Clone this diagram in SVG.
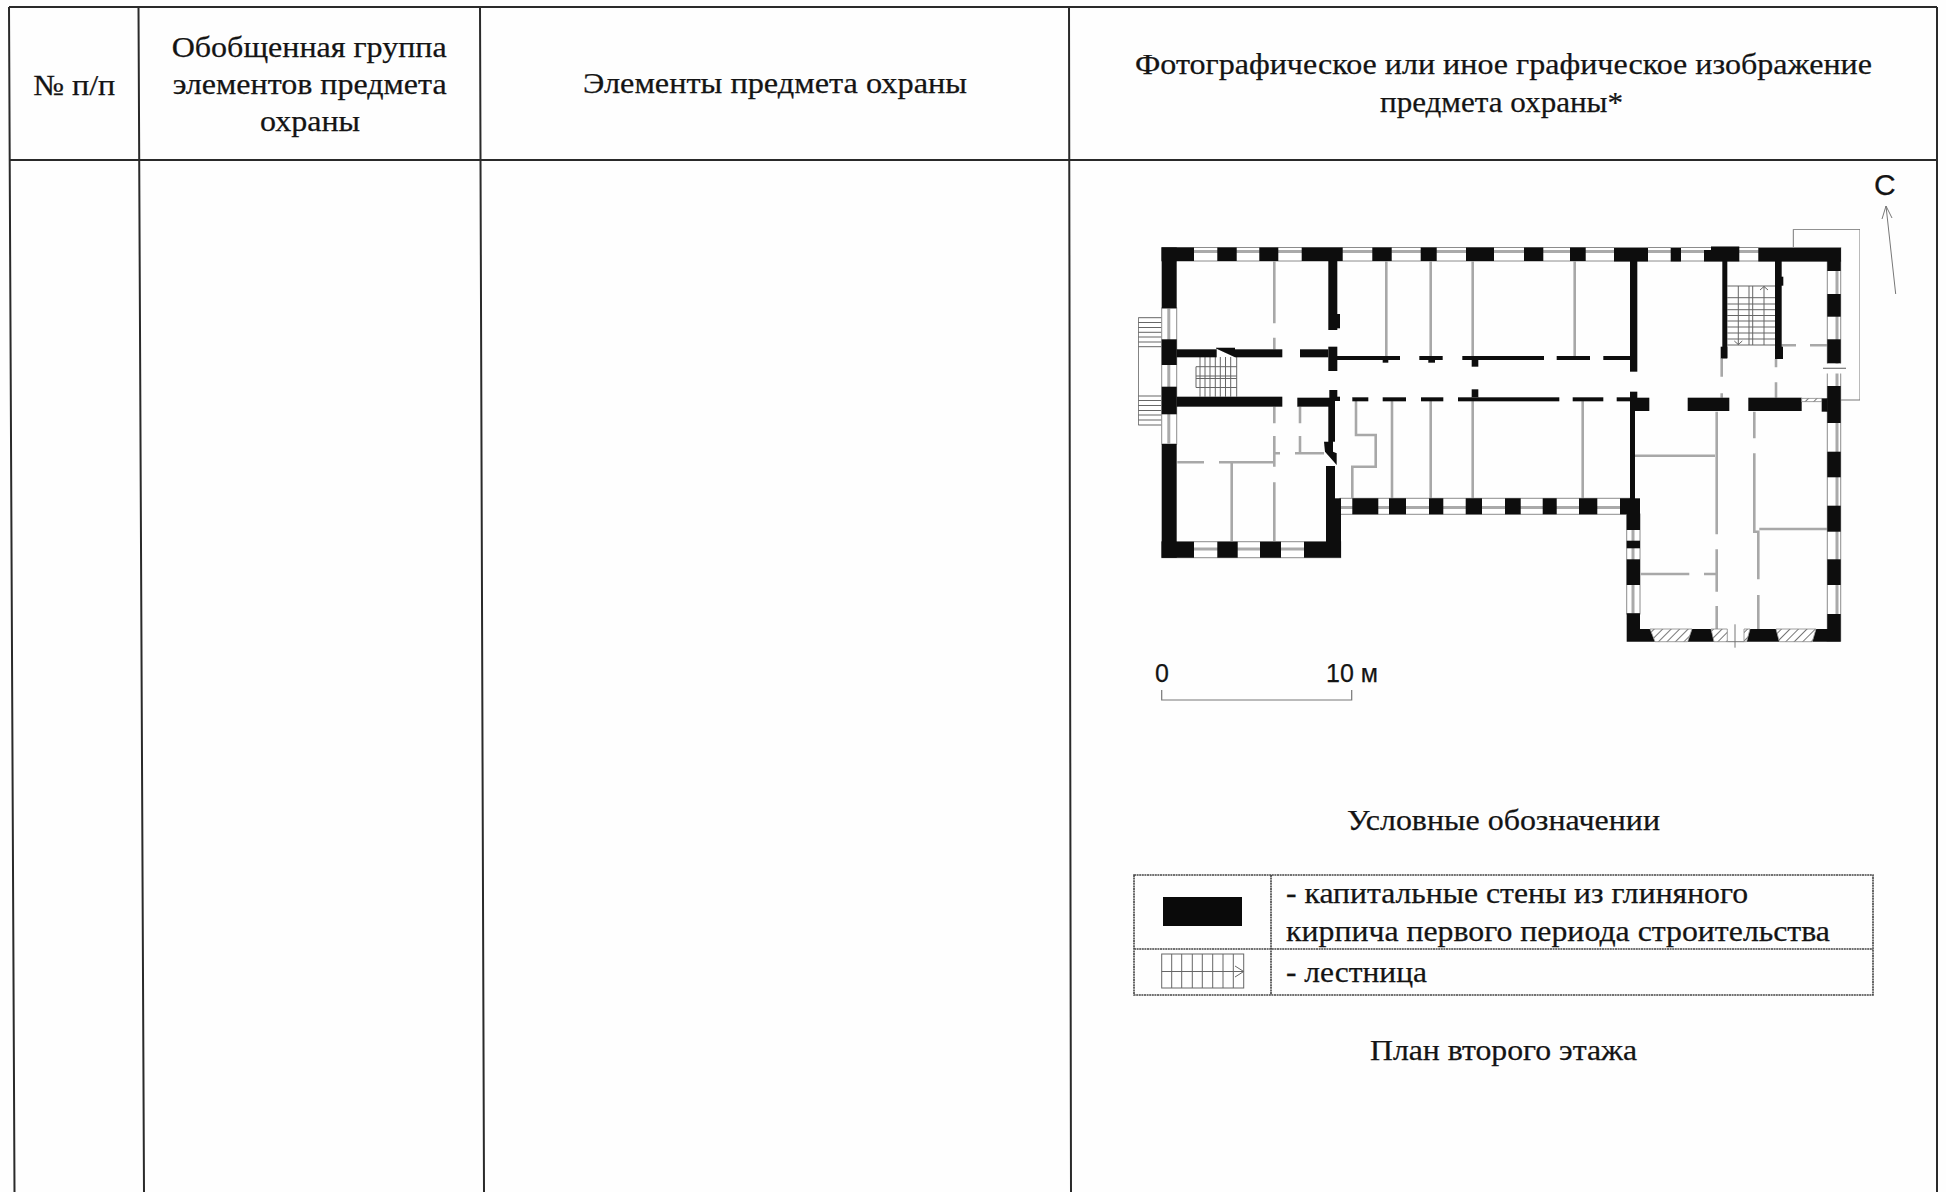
<svg xmlns="http://www.w3.org/2000/svg" width="1946" height="1192" viewBox="0 0 1946 1192">
<style>
text{font-family:"Liberation Serif","Times New Roman",serif;font-size:29px;fill:#141414;stroke:#141414;stroke-width:.25}
.sans{font-family:"Liberation Sans",Arial,sans-serif;font-size:25px}
.tb{stroke:#2a2a2a;stroke-width:2;fill:none}
.lg{stroke:#444;stroke-width:1.6;fill:none;stroke-dasharray:2 .6}
.w{fill:#0a0a0a}
.pt{stroke:#a8a8a8;stroke-width:2.6;fill:none}
.th{stroke:#777;stroke-width:1;fill:none}
.win{stroke:#8c8c8c;stroke-width:1;fill:#fff}
.st{stroke:#666;stroke-width:1;fill:none}
</style>
<defs>
<pattern id="hatch" width="6" height="6" patternUnits="userSpaceOnUse" patternTransform="rotate(45)">
<rect width="6" height="6" fill="#fff"/><line x1="0" y1="0" x2="0" y2="6" stroke="#777" stroke-width="2"/>
</pattern>
<filter id="soft" x="0" y="0" width="100%" height="100%"><feGaussianBlur stdDeviation="0.4"/></filter>
</defs>
<rect width="1946" height="1192" fill="#fefefe"/>

<g id="table">
<path class="tb" d="M9 7L1937 7M10 160L1937 160M9 7L14.5 1192M138.5 7L144 1192M480 7L484 1192M1069 7L1071 1192M1937 7L1937 1192"/>
</g>

<g id="header">
<text x="33.3" y="95" textLength="82" lengthAdjust="spacingAndGlyphs">№ п/п</text>
<text x="171.7" y="57" textLength="275" lengthAdjust="spacingAndGlyphs">Обобщенная группа</text>
<text x="172.7" y="94" textLength="274" lengthAdjust="spacingAndGlyphs">элементов предмета</text>
<text x="260" y="131" textLength="100" lengthAdjust="spacingAndGlyphs">охраны</text>
<text x="583" y="93" textLength="384" lengthAdjust="spacingAndGlyphs">Элементы предмета охраны</text>
<text x="1135" y="74" textLength="737" lengthAdjust="spacingAndGlyphs" style="font-size:30px">Фотографическое или иное графическое изображение</text>
<text x="1380" y="112" textLength="243" lengthAdjust="spacingAndGlyphs" style="font-size:30px">предмета охраны*</text>
</g>

<g id="plan" filter="url(#soft)">
<g class="st">
<path d="M1161.7 317.7H1138.3V425H1161.7"/>
<path d="M1138.3 322.5H1161.7M1138.3 327.5H1161.7M1138.3 332.3H1161.7M1138.3 337H1161.7M1138.3 342H1161.7M1138.3 346.7H1161.7"/>
<path d="M1138.3 396H1161.7M1138.3 400.5H1161.7M1138.3 405.5H1161.7M1138.3 410.5H1161.7M1138.3 415H1161.7M1138.3 420H1161.7"/>
</g>
<path class="th" d="M1793.3 248V229.3H1860V400H1840.7"/>
<g class="win">
<rect x="1161.7" y="247.5" width="679" height="13.5"/>
<rect x="1161.7" y="308" width="15" height="136"/>
<rect x="1161.7" y="541.7" width="179" height="16"/>
<rect x="1340" y="498.3" width="290" height="16"/>
<rect x="1626.7" y="514" width="13.3" height="100"/>
<rect x="1827.3" y="261" width="13.4" height="380"/>
</g>
<path d="M1194 251.5H1704M1739 251.5H1759M1194 549H1340M1340 507.5H1626" stroke="#aaa" stroke-width="3" fill="none"/>
<path d="M1168.8 308V444M1633 530V614M1837 271V641" stroke="#aaa" stroke-width="3" fill="none"/>
<rect x="1820" y="363.5" width="22" height="10" fill="#fff"/>
<path d="M1823 368.3H1846" stroke="#777" stroke-width="1.2"/>

<g class="pt">
<path d="M1274.3 261V323.3M1274.3 337.7V349.3M1386.3 261V357M1430.7 261V357M1472.7 261V357M1574.7 261V357"/>
<path d="M1274.3 406.7V423.3M1274.3 436V466.7M1274.3 453.3H1280M1300 406.7V423.3M1300 436V453.3M1295 453.3H1324"/>
<path d="M1177.3 462.3H1204M1219 462.3H1274.3M1231.7 462.3V541.7M1274.3 482.3V541.7"/>
<path d="M1356 401V435H1375.7V466.7H1352.3V498.3"/>
<path d="M1392 401V498.3M1430.7 401V498.3M1472.7 401V498.3M1582.7 401V498.3"/>
<path d="M1635 455.7H1715M1716.7 411.7V534.3M1716.7 549.3V591.7M1716.7 606V629M1640.7 574H1689.3M1704 574H1715.7"/>
<path d="M1754.3 411.7V438.3M1754.3 453.3V531.7H1758.3V579.3M1758.3 595V629M1759.3 529H1827.3"/>
<path d="M1721.7 358V376.7M1721.7 393.3V397.7M1776 359V367.3M1776 382.3V397.7M1781.7 345.3H1796M1810 345.3H1827.3"/>
</g>

<g class="st">
<path d="M1200 357V396.7M1205 357V396.7M1210 357V396.7M1215.3 357V396.7M1220.3 357V396.7M1225.5 357V396.7M1230.7 357V396.7M1236.7 357V396.7"/>
<path d="M1196 366.7H1236.7M1196 376H1236.7M1196 378.5H1236.7M1196 387.5H1236.7M1196 366.7V387.5"/>
</g>
<g class="st">
<path d="M1727.3 286H1775M1727.3 297.7H1775M1727.3 304H1775M1727.3 309.7H1775M1727.3 315.5H1775M1727.3 321H1775M1727.3 327H1775M1727.3 333H1775M1727.3 339H1775M1727.3 345H1775"/>
<path d="M1738.3 286V345M1764 286V345"/>
<path d="M1749 286V345M1752.7 286V345"/>
<path d="M1760 290L1764 286.5L1768 290M1734.3 341L1738.3 344.5L1742.3 341"/>
</g>

<g class="w">
<rect x="1161.7" y="247.5" width="32.3" height="13.5"/>
<rect x="1217.3" y="247.5" width="19.4" height="13.5"/>
<rect x="1259.3" y="247.5" width="19" height="13.5"/>
<rect x="1301.7" y="247.5" width="41" height="13.5"/>
<rect x="1372.3" y="247.5" width="19.4" height="13.5"/>
<rect x="1420.7" y="247.5" width="16" height="13.5"/>
<rect x="1466" y="247.5" width="28" height="13.5"/>
<rect x="1524" y="247.5" width="19.3" height="13.5"/>
<rect x="1570" y="247.5" width="15.7" height="13.5"/>
<rect x="1614" y="248" width="34" height="13.5"/>
<rect x="1670.7" y="248" width="10.3" height="13.5"/>
<path d="M1704 250H1711V246.5H1739.3V261.5H1704Z"/>
<rect x="1758.3" y="248" width="82.4" height="13.5"/>
<rect x="1161.7" y="247.5" width="15" height="60.8"/>
<rect x="1161.7" y="339.3" width="15" height="25.7"/>
<rect x="1161.7" y="386.7" width="15" height="27.6"/>
<rect x="1161.7" y="444" width="15" height="113.7"/>
<rect x="1161.7" y="541.7" width="32.3" height="16"/>
<rect x="1217.3" y="541.7" width="20.4" height="16"/>
<rect x="1260" y="541.7" width="21" height="16"/>
<rect x="1304" y="541.7" width="37" height="16"/>
<rect x="1326" y="466" width="9" height="76"/>
<rect x="1335" y="498.3" width="6" height="44"/>
<path d="M1328.3 398H1335V441.7H1333V451.7L1336.7 453.3V465L1325 451.7L1324 441.7H1328.3Z"/>
<rect x="1176.7" y="349.3" width="40" height="8"/>
<path d="M1216 347.7H1235V357.3L1216 348.5Z"/>
<rect x="1235" y="349.3" width="47.3" height="8"/>
<rect x="1300" y="349.3" width="28.3" height="8"/>
<rect x="1328.3" y="346.7" width="9" height="24.3"/>
<rect x="1328.3" y="260" width="9" height="70"/>
<rect x="1337" y="314" width="3" height="14.3"/>
<rect x="1337" y="356" width="63" height="4"/>
<rect x="1419.3" y="356" width="23.4" height="4"/>
<rect x="1462.3" y="356" width="81.7" height="4"/>
<rect x="1556.7" y="356" width="33.3" height="4"/>
<rect x="1603.3" y="356" width="26.7" height="4"/>
<rect x="1382.7" y="356" width="5.6" height="6.7"/>
<rect x="1428.3" y="356" width="6.7" height="6.7"/>
<rect x="1471.7" y="356" width="6.6" height="10.7"/>
<rect x="1630" y="260.7" width="7.3" height="111"/>
<rect x="1176.7" y="396.7" width="105.6" height="10"/>
<rect x="1297.3" y="397.7" width="37.7" height="9"/>
<rect x="1335" y="396.7" width="5" height="4.3"/>
<rect x="1329.3" y="390" width="8" height="8"/>
<rect x="1352.3" y="397.3" width="16" height="4"/>
<rect x="1382.7" y="397.3" width="23.3" height="4"/>
<rect x="1421" y="397.3" width="22.3" height="4"/>
<rect x="1458" y="397.3" width="101.3" height="4"/>
<rect x="1572.7" y="397.3" width="30.6" height="4"/>
<rect x="1616.7" y="397.3" width="13.3" height="4"/>
<rect x="1471.7" y="389.3" width="6.6" height="8"/>
<rect x="1630" y="391.7" width="7.3" height="8"/>
<rect x="1630" y="397.7" width="19.3" height="13.3"/>
<rect x="1630" y="411" width="5" height="90"/>
<rect x="1352.3" y="498.3" width="26" height="16"/>
<rect x="1389" y="498.3" width="17" height="16"/>
<rect x="1429" y="498.3" width="14.3" height="16"/>
<rect x="1465.7" y="498.3" width="16.3" height="16"/>
<rect x="1505" y="498.3" width="15.7" height="16"/>
<rect x="1542.7" y="498.3" width="14" height="16"/>
<rect x="1579" y="498.3" width="18.3" height="16"/>
<rect x="1620" y="498.3" width="20" height="16"/>
<rect x="1626.7" y="514" width="13.3" height="16"/>
<rect x="1626.7" y="540.7" width="13.3" height="7.6"/>
<rect x="1626.7" y="559.3" width="13.3" height="25.7"/>
<path d="M1626.7 613.3H1640V629H1650L1655 641.7H1626.7Z"/>
<path d="M1692 629H1711L1714 641.7H1687.7Z"/>
<path d="M1750 629H1776L1779.3 641.7H1746.7Z"/>
<path d="M1816 629H1827.3V614H1840.7V641.7H1812.3Z"/>
<rect x="1827.3" y="248" width="13.4" height="23"/>
<rect x="1827.3" y="294" width="13.4" height="22.7"/>
<rect x="1827.3" y="339.3" width="13.4" height="24"/>
<rect x="1827.3" y="386" width="13.4" height="37"/>
<rect x="1821.7" y="398.3" width="6" height="13.4"/>
<rect x="1827.3" y="451.7" width="13.4" height="25.6"/>
<rect x="1827.3" y="505.7" width="13.4" height="26"/>
<rect x="1827.3" y="559.3" width="13.4" height="25.7"/>
<rect x="1687.7" y="397.7" width="41.6" height="13.3"/>
<rect x="1748.3" y="397.7" width="53.4" height="13.3"/>
<rect x="1722.3" y="261" width="5" height="97.3"/>
<rect x="1720.7" y="346.7" width="6.6" height="11.6"/>
<rect x="1775" y="261" width="6.7" height="97.3"/>
<rect x="1775" y="346.7" width="8" height="12.3"/>
<rect x="1780" y="276.7" width="3.3" height="9"/>
</g>
<g fill="url(#hatch)" stroke="#888" stroke-width=".8">
<path d="M1650 629H1692L1687.7 641.7H1655Z"/>
<path d="M1711 629H1727.3V641.7H1714Z"/>
<path d="M1744 629H1750L1746.7 641.7H1744Z"/>
<path d="M1776 629H1816L1812.3 641.7H1779.3Z"/>
<rect x="1801.7" y="398.3" width="20" height="3.4"/>
</g>
<path d="M1735 624.3V647.7M1727.3 641.7H1744" class="th"/>
</g>

<g id="north-arrow">
<text class="sans" x="1874" y="195" style="font-size:30px">С</text>
<path d="M1895.7 294L1886 206M1882 219L1886 206L1892 218" stroke="#777" stroke-width="1" fill="none"/>
</g>

<g id="scale">
<text class="sans" x="1155" y="682">0</text>
<text class="sans" x="1326" y="682" textLength="52" lengthAdjust="spacingAndGlyphs">10 м</text>
<path d="M1161.7 690V700H1351.7V690" stroke="#777" stroke-width="1.2" fill="none"/>
</g>

<g id="legend">
<text x="1347" y="830" textLength="313" lengthAdjust="spacingAndGlyphs">Условные обозначении</text>
<path class="lg" d="M1134 875H1873V995H1134ZM1134 949H1873M1271 875V995"/>
<rect x="1163" y="897" width="79" height="29" fill="#0a0a0a"/>
<g class="st">
<rect x="1161.7" y="954" width="82" height="34"/>
<path d="M1161.7 971.5H1243.7M1171.7 954V988M1181.7 954V988M1192.3 954V988M1202.3 954V988M1212.7 954V988M1223 954V988M1233.3 954V988M1235 966L1243.7 971.5L1235 977"/>
</g>
<text x="1286" y="903" textLength="462" lengthAdjust="spacingAndGlyphs">- капитальные стены из глиняного</text>
<text x="1286" y="941" textLength="544" lengthAdjust="spacingAndGlyphs">кирпича первого периода строительства</text>
<text x="1286" y="982" textLength="141" lengthAdjust="spacingAndGlyphs">- лестница</text>
<text x="1370" y="1060" textLength="267" lengthAdjust="spacingAndGlyphs">План второго этажа</text>
</g>
</svg>
